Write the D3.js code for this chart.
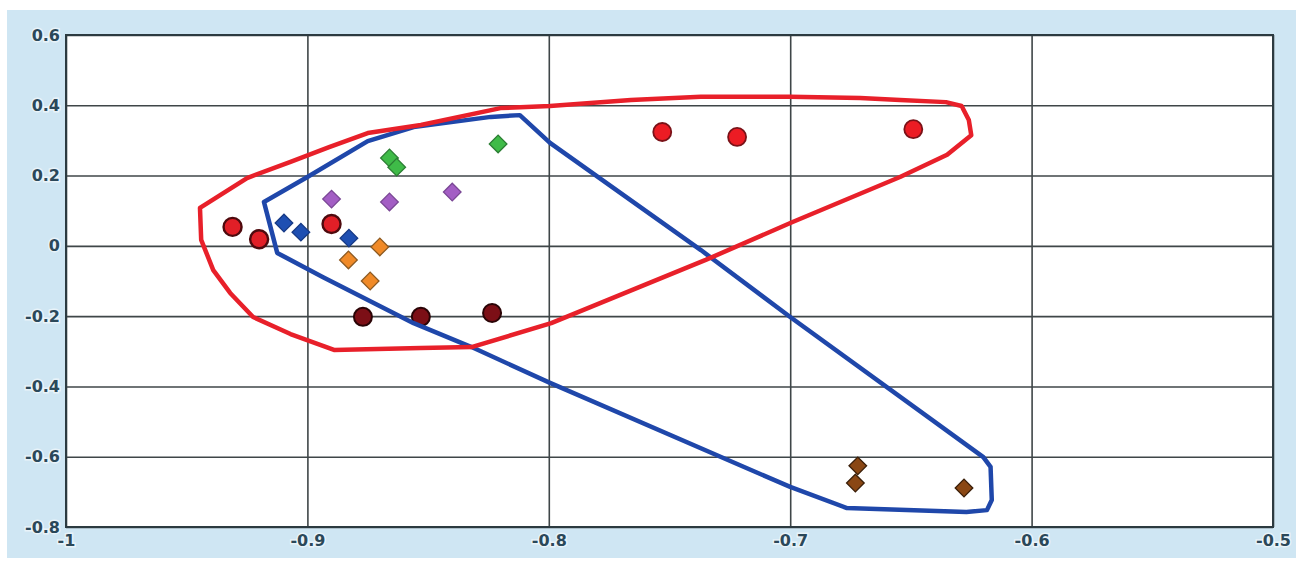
<!DOCTYPE html>
<html>
<head>
<meta charset="utf-8">
<script src="https://cdn.jsdelivr.net/npm/d3@7"></script>
<style>
  html, body { margin: 0; padding: 0; background: #ffffff; }
  svg { display: block; }
  .tick text { font-family: "DejaVu Sans", Verdana, sans-serif; font-weight: bold; font-size: 16px; fill: #2b4859;
               paint-order: stroke; stroke: rgba(255,255,255,0.55); stroke-width: 3px; }
</style>
</head>
<body>
<svg id="chart" width="1296" height="561"></svg>
<script>
// Axis ticks and their labels
const xTicks = [-1, -0.9, -0.8, -0.7, -0.6, -0.5];
const xTickLabels = ["-1", "-0.9", "-0.8", "-0.7", "-0.6", "-0.5"];
const yTicks = [0.6, 0.4, 0.2, 0, -0.2, -0.4, -0.6, -0.8];
const yTickLabels = ["0.6", "0.4", "0.2", "0", "-0.2", "-0.4", "-0.6", "-0.8"];

// Circle groups [x, y]
const redUpper = [[-0.753, 0.324], [-0.722, 0.310], [-0.649, 0.332]];
const redLeft = [[-0.931, 0.054], [-0.920, 0.019], [-0.890, 0.062]];
const maroon = [[-0.877, -0.202], [-0.853, -0.202], [-0.8235, -0.191]];

// Diamond groups [x, y]
const green = [[-0.866, 0.250], [-0.863, 0.224], [-0.821, 0.290]];
const purple = [[-0.890, 0.133], [-0.866, 0.125], [-0.840, 0.153]];
const blue = [[-0.9097, 0.065], [-0.9027, 0.039], [-0.8828, 0.022]];
const orange = [[-0.870, -0.003], [-0.883, -0.040], [-0.874, -0.100]];
const brown = [[-0.672, -0.626], [-0.673, -0.675], [-0.628, -0.689]];

// Hand-drawn enclosing outlines [x, y]
const redOutline = [
  [-0.9445, 0.108], [-0.925, 0.193], [-0.907, 0.239], [-0.891, 0.281], [-0.875, 0.321],
  [-0.853, 0.344], [-0.820, 0.392], [-0.7995, 0.398], [-0.766, 0.415], [-0.737, 0.424],
  [-0.700, 0.424], [-0.671, 0.421], [-0.6545, 0.415], [-0.6355, 0.409], [-0.629, 0.398],
  [-0.626, 0.358], [-0.625, 0.315], [-0.635, 0.259], [-0.6545, 0.196], [-0.699, 0.068],
  [-0.735, -0.040], [-0.799, -0.220], [-0.832, -0.288], [-0.853, -0.291], [-0.889, -0.296],
  [-0.907, -0.251], [-0.9225, -0.2025], [-0.932, -0.134], [-0.939, -0.069], [-0.944, 0.017]
];
const blueOutline = [
  [-0.918, 0.125], [-0.900, 0.196], [-0.875, 0.298], [-0.856, 0.338], [-0.824, 0.367],
  [-0.812, 0.372], [-0.7995, 0.293], [-0.737, -0.012], [-0.700, -0.2025], [-0.620, -0.601],
  [-0.617, -0.629], [-0.6165, -0.723], [-0.6185, -0.752], [-0.627, -0.757], [-0.6765, -0.746],
  [-0.700, -0.686], [-0.7995, -0.390], [-0.832, -0.288], [-0.856, -0.220], [-0.8935, -0.089],
  [-0.9125, -0.020]
];

const svg = d3.select("#chart");
const W = 1296, H = 561;
const plot = { left: 66, right: 1273, top: 35, bottom: 527 };

// Light blue chart area
svg.append("rect").attr("x", 7).attr("y", 10).attr("width", W - 7).attr("height", 548)
  .attr("fill", "#cfe6f3");
svg.append("rect").attr("x", plot.left).attr("y", plot.top)
  .attr("width", plot.right - plot.left).attr("height", plot.bottom - plot.top)
  .attr("fill", "#ffffff");

const x = d3.scaleLinear().domain([-1, -0.5]).range([plot.left, plot.right]);
const y = d3.scaleLinear().domain([-0.8, 0.6]).range([plot.bottom, plot.top]);

// Gridlines and tick labels
const yAxis = d3.axisLeft(y).tickValues(yTicks)
  .tickFormat((d, i) => yTickLabels[i])
  .tickSize(-(plot.right - plot.left)).tickPadding(6);
const gy = svg.append("g").attr("transform", `translate(${plot.left},0)`).call(yAxis);

const xAxis = d3.axisBottom(x).tickValues(xTicks)
  .tickFormat((d, i) => xTickLabels[i])
  .tickSize(-(plot.bottom - plot.top)).tickPadding(8);
const gx = svg.append("g").attr("transform", `translate(0,${plot.bottom})`).call(xAxis);

[gx, gy].forEach(g => {
  g.select(".domain").remove();
  g.selectAll(".tick line").attr("stroke", "#3f4648").attr("stroke-width", 1.6);
});

// Plot frame
svg.append("rect").attr("x", plot.left).attr("y", plot.top)
  .attr("width", plot.right - plot.left).attr("height", plot.bottom - plot.top)
  .attr("fill", "none").attr("stroke", "#2c3a40").attr("stroke-width", 2);

// Markers
function circles(data, fill, stroke, sw) {
  svg.append("g").selectAll("circle").data(data).join("circle")
    .attr("cx", d => x(d[0])).attr("cy", d => y(d[1])).attr("r", 9)
    .attr("fill", fill).attr("stroke", stroke).attr("stroke-width", sw);
}
function diamonds(data, fill, stroke) {
  const sym = d3.symbol(d3.symbolSquare, 155);
  svg.append("g").selectAll("path").data(data).join("path")
    .attr("d", sym)
    .attr("transform", d => `translate(${x(d[0])},${y(d[1])}) rotate(45)`)
    .attr("fill", fill).attr("stroke", stroke).attr("stroke-width", 1.3);
}
circles(redUpper, "#ec1c24", "#7a1218", 1.8);
circles(redLeft, "#e11f27", "#4e0a0e", 2.4);
circles(maroon, "#7c0f16", "#2a0406", 2);
diamonds(green, "#3fbb48", "#2b7d33");
diamonds(purple, "#a35ec4", "#7a4795");
diamonds(blue, "#1e4fb2", "#173a85");
diamonds(orange, "#f08a28", "#8c5a22");
diamonds(brown, "#8a4714", "#3a1e08");

// Enclosing outlines
const outline = d3.line().x(d => x(d[0])).y(d => y(d[1])).curve(d3.curveLinearClosed);
svg.append("path").attr("d", outline(blueOutline))
  .attr("fill", "none").attr("stroke", "#1f47aa").attr("stroke-width", 4.5)
  .attr("stroke-linejoin", "round");
svg.append("path").attr("d", outline(redOutline))
  .attr("fill", "none").attr("stroke", "#e8202a").attr("stroke-width", 4.5)
  .attr("stroke-linejoin", "round");
</script>
</body>
</html>
